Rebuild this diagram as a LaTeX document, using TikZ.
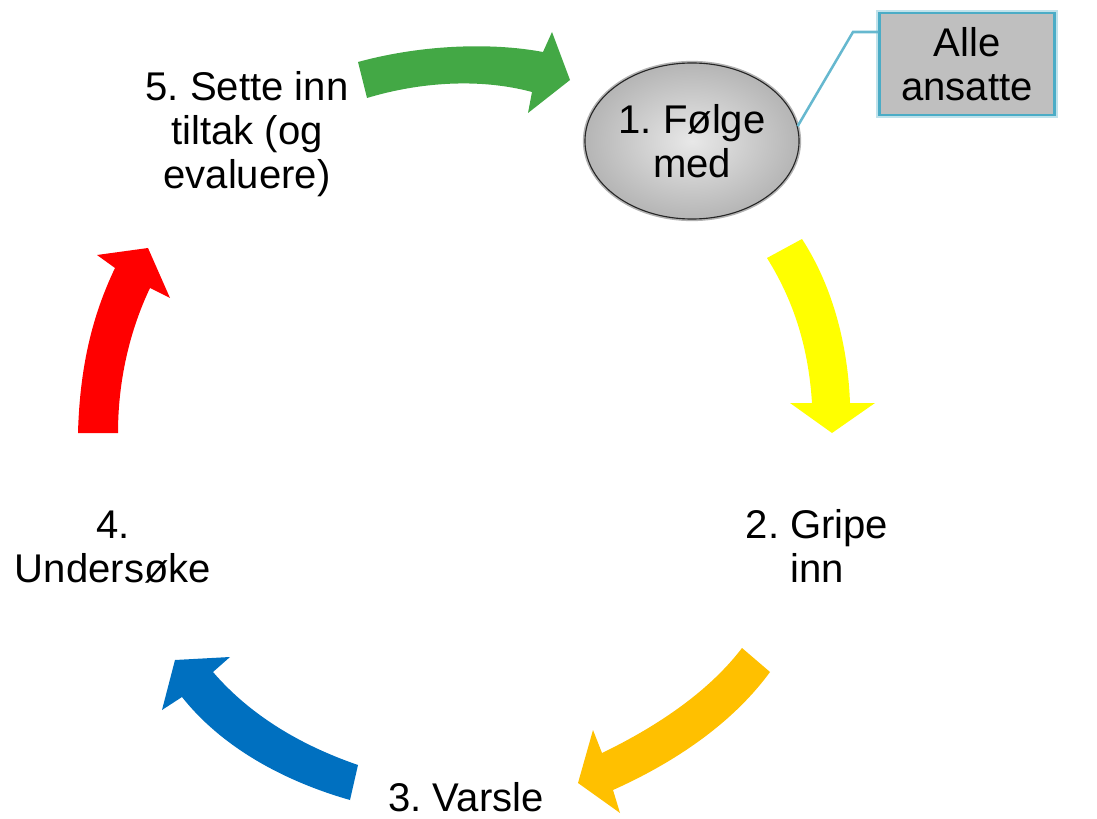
\documentclass[tikz,border=0pt]{standalone}
\usepackage{fontspec}
\setmainfont{Liberation Sans}
\usepackage{tikz}
\usetikzlibrary{positioning,shapes.geometric}
\usepackage{xcolor}
\frenchspacing

\definecolor{pilgronn}{RGB}{67,168,69}
\definecolor{pilgul}{RGB}{255,255,0}
\definecolor{piloransje}{RGB}{255,192,0}
\definecolor{pilbla}{RGB}{0,112,192}
\definecolor{pilrod}{RGB}{255,0,0}
\definecolor{kantbla}{RGB}{75,172,198}

\begin{document}
\begin{tikzpicture}[x=0.025cm, y=-0.025cm,
    every node/.style={align=center, inner sep=1pt, font=\fontsize{28.5}{31.3}\selectfont},
    steg/.style={},
    folgemed/.style={ellipse, draw=black!85, line width=0.8pt, minimum width=5.35cm, minimum height=3.9cm,
        inner sep=0pt, shading=radial, inner color=gray!18, outer color=gray!58,
        preaction={draw=gray!60, line width=3pt}},
    boks/.style={rectangle, draw=kantbla, line width=1.5pt, fill=gray!50, minimum width=4.375cm, minimum height=2.55cm,
        preaction={draw=kantbla!35, line width=4.5pt}},
    linje/.style={draw=kantbla!85, line width=1.8pt}]
    \useasboundingbox (0,0) rectangle (1097,819);

    % Noder

    \node[folgemed] (fm) at (692,141) {1. Følge\\med};
    \node[boks] (alle) at (967,64) {Alle\\ansatte};
    \node[steg] (gi) at (817,546) {2. Gripe\\inn};
    \node[steg] (va) at (466,797) {3. Varsle};
    \node[steg] (un) at (113,547) {4.\\Undersøke};
    \node[steg] (st) at (247,134) {5. Sette inn\\tiltak (og\\evaluere)};
    \coordinate (knekk) at (853,32);

    % Linje

    \draw[linje] (alle.west |- knekk) -- (knekk) -- (fm.8);

    % Piler

    \fill[pilgronn] (358,62) .. controls (420,45) and (490,42) .. (543,52) -- (552,32) -- (570,80)
        -- (528,113) -- (532,92) .. controls (480,78) and (420,82) .. (367,98) -- cycle;
    \fill[pilgul] (767,258) -- (802,239) .. controls (835,290) and (848,350) .. (850,403) -- (875,403)
        -- (832,433) -- (790,403) -- (812,403) .. controls (808,340) and (790,295) .. (767,258) -- cycle;
    \fill[piloransje] (742,648) -- (770,672) .. controls (735,720) and (680,760) .. (613,790) -- (620,813)
        -- (578,783) -- (593,730) -- (602,753) .. controls (660,725) and (710,690) .. (742,648) -- cycle;
    \fill[pilbla] (350,800) -- (358,765) .. controls (300,745) and (250,715) .. (213,672) -- (230,657)
        -- (175,660) -- (162,710) -- (182,697) .. controls (220,745) and (280,780) .. (350,800) -- cycle;
    \fill[pilrod] (78,433) .. controls (80,360) and (95,310) .. (115,268) -- (97,255) -- (148,248)
        -- (170,298) -- (150,288) .. controls (130,330) and (118,380) .. (118,433) -- cycle;

\end{tikzpicture}
\end{document}
